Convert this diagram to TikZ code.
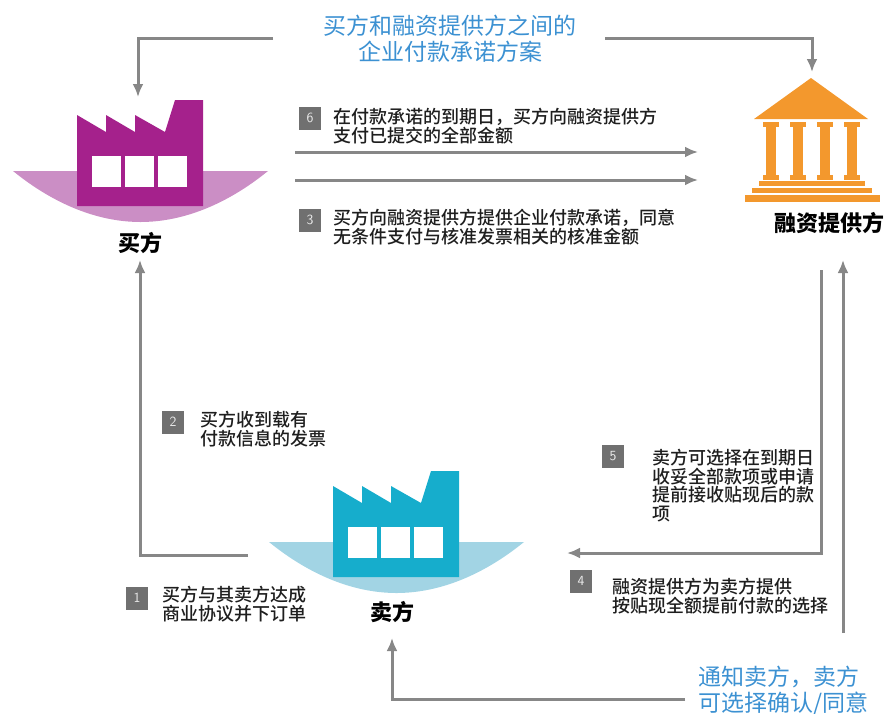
\documentclass[tikz,border=0pt]{standalone}
\usepackage{fontspec}
\usepackage{tikz}
\usetikzlibrary{calc,arrows.meta}
\newfontfamily\cjk{Noto Sans CJK SC}
\newfontfamily\cjkmid{Noto Sans CJK SC Medium}

\definecolor{buyerpurple}{RGB}{165,33,140}
\definecolor{buyerbowl}{RGB}{203,142,197}
\definecolor{sellercyan}{RGB}{22,173,204}
\definecolor{sellerbowl}{RGB}{162,212,228}
\definecolor{bankorange}{RGB}{243,152,45}
\definecolor{planblue}{RGB}{60,145,210}
\definecolor{flowgray}{RGB}{135,135,135}
\definecolor{boxgray}{RGB}{112,112,112}
\definecolor{notegray}{RGB}{30,30,30}

\tikzset{
	flow/.style={draw=flowgray, line width=3pt, -{Latex[length=13pt,width=11pt]}},
	numbox/.style={fill=boxgray, text=white!85!gray, minimum width=22pt, minimum height=23pt, inner sep=0pt, font=\sffamily\fontsize{14}{14}\selectfont},
	stepnote/.style={anchor=north west, align=left, inner sep=0pt, text=notegray, font=\cjkmid\fontsize{18}{18.5}\selectfont},
	bluenote/.style={inner sep=0pt, text=planblue, font=\cjk\fontsize{23}{26}\selectfont},
	partyname/.style={inner sep=0pt, text=black, font=\cjk\bfseries\fontsize{22}{22}\selectfont}
}

\begin{document}
\begin{tikzpicture}[x=1pt,y=-1pt]
		\useasboundingbox (0,0) rectangle (889,713);
		
		%factories: buyer and seller
		\foreach \fx/\fy/\fc/\bc in {77/206/buyerpurple/buyerbowl,333/577/sellercyan/sellerbowl}{
			\begin{scope}[shift={(\fx,\fy)}]
			%bowl
			\fill[\bc] (-64,-35) parabola bend (63.5,16) (191,-35) -- cycle;
			%building
			\fill[\fc] (0,0) -- (0,-91) -- (29,-74) -- (29,-91) -- (58,-74) -- (58,-91) -- (88,-74) -- (98,-106) -- (126,-106) -- (126,0) -- cycle;
			%windows
			\foreach \w in {0,1,2}
				\fill[white] ({15+\w*33},-19) rectangle ({44+\w*33},-50);
			\end{scope}
		}
		
		%bank
		\fill[bankorange] (811,78) -- (868,119) -- (754,119) -- cycle;
		\foreach \c in {771,798,825,852}{
			\fill[bankorange] (\c-8,122) rectangle (\c+8,127);
			\fill[bankorange] (\c-5,127) rectangle (\c+5,175);
			\fill[bankorange] (\c-8,175) rectangle (\c+8,180);
		}
		\fill[bankorange] (759,181) rectangle (865,186);
		\fill[bankorange] (752,188) rectangle (872,193);
		\fill[bankorange] (745,195) rectangle (880,202);
		
		%names
		\node[partyname] (buyer) at (140,243) {买方};
		\node[partyname] (seller) at (392,612) {卖方};
		\node[partyname] (fin) at (829,223) {融资提供方};
		
		%blue notes
		\node[bluenote, anchor=north, align=center] (plan) at (450,15) {买方和融资提供方之间的\\企业付款承诺方案};
		\node[bluenote, anchor=north west, align=left] (notify) at (698,666) {通知卖方，卖方\\可选择确认/同意};
		
		%steps
		\node[numbox] (n1) at (137,598) {1};
		\node[stepnote] (t1) at (162,586) {买方与其卖方达成\\商业协议并下订单};
		\node[numbox] (n2) at (173,422) {2};
		\node[stepnote] (t2) at (200,411) {买方收到载有\\付款信息的发票};
		\node[numbox] (n3) at (310,220) {3};
		\node[stepnote] (t3) at (333,209) {买方向融资提供方提供企业付款承诺，同意\\无条件支付与核准发票相关的核准金额};
		\node[numbox] (n4) at (581,581) {4};
		\node[stepnote] (t4) at (612,578) {融资提供方为卖方提供\\按贴现全额提前付款的选择};
		\node[numbox] (n5) at (613,456) {5};
		\node[stepnote] (t5) at (652,449) {卖方可选择在到期日\\收妥全部款项或申请\\提前接收贴现后的款\\项};
		\node[numbox] (n6) at (310,118) {6};
		\node[stepnote] (t6) at (333,108) {在付款承诺的到期日，买方向融资提供方\\支付已提交的全部金额};
		
		%arrows:
		\coordinate (planL) at (273,38);
		\coordinate (planR) at (605,38);
		\coordinate (buyerTop) at (138,97);
		\coordinate (finTop) at (812,72);
		\draw[flow] (planL) -| (buyerTop);
		\draw[flow] (planR) -| (finTop);
		
		\coordinate (payS) at (295,152);
		\coordinate (payE) at (698,152);
		\coordinate (commitS) at (295,180);
		\coordinate (commitE) at (698,180);
		\draw[flow] (payS) -- (payE);
		\draw[flow] (commitS) -- (commitE);
		
		\coordinate (sellerL) at (248,555);
		\coordinate (buyerBot) at (140,260);
		\draw[flow] (sellerL) -| (buyerBot);
		
		\coordinate (finBotL) at (821,270);
		\coordinate (sellerR) at (567,553);
		\draw[flow] (finBotL) |- (sellerR);
		
		\coordinate (notifyR) at (843,633);
		\coordinate (finBotR) at (843,260);
		\draw[flow] (notifyR) -- (finBotR);
		
		\coordinate (notifyL) at (685,699);
		\coordinate (sellerBot) at (392,638);
		\draw[flow] (notifyL) -| (sellerBot);
		
\end{tikzpicture}
\end{document}
